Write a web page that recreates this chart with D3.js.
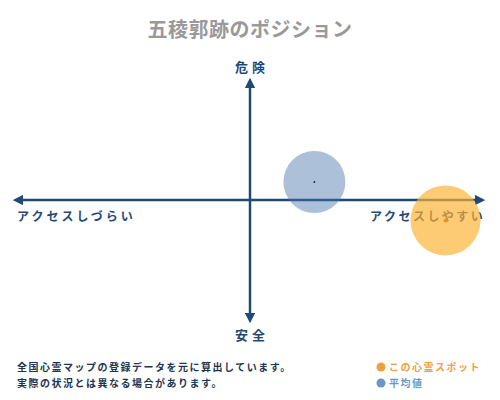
<!DOCTYPE html>
<html>
<head>
<meta charset="utf-8">
<script src="https://cdn.jsdelivr.net/npm/d3@7"></script>
<style>
  body { margin: 0; background: #fff; }
  text { font-family: "Noto Sans CJK JP", "Noto Sans", sans-serif; }
</style>
</head>
<body>
<div id="chart"></div>
<script>
const chartTitle = "五稜郭跡のポジション";
const axisLabels = ["危険", "安全", "アクセスしづらい", "アクセスしやすい"];
const noteLines = ["全国心霊マップの登録データを元に算出しています。", "実際の状況とは異なる場合があります。"];

// points: access (x), danger (y), bubble size
const pointNames = ["平均値", "この心霊スポット"];
const accessValues = [0.28, 0.85];
const dangerValues = [0.15, -0.17];
const sizeValues = [31, 35];
const legendNames = ["この心霊スポット", "平均値"];

const width = 500,
  height = 400;

const svg = d3.select("#chart").append("svg").attr("width", width).attr("height", height);

const x = d3.scaleLinear().domain([-1, 1]).range([20, 480]);
const y = d3.scaleLinear().domain([-1, 1]).range([320, 80]);

const axisColor = "#1f4a78";

// title
svg
  .append("text")
  .attr("x", 250)
  .attr("y", 37)
  .attr("text-anchor", "middle")
  .style("font-size", "20px")
  .style("font-weight", "bold")
  .style("letter-spacing", "0.5px")
  .style("fill", "#999")
  .text(chartTitle);

const defs = svg.append("defs");
defs
  .append("marker")
  .attr("id", "arrow")
  .attr("viewBox", "0 0 10 10")
  .attr("refX", 5)
  .attr("refY", 5)
  .attr("markerWidth", 4.2)
  .attr("markerHeight", 4.2)
  .attr("orient", "auto-start-reverse")
  .append("path")
  .attr("d", "M0,0 L10,5 L0,10 Z")
  .attr("fill", axisColor);

// axes
svg
  .append("line")
  .attr("x1", x(-1) - 2)
  .attr("x2", x(1))
  .attr("y1", y(0))
  .attr("y2", y(0))
  .attr("stroke", axisColor)
  .attr("stroke-width", 2.5)
  .attr("marker-start", "url(#arrow)")
  .attr("marker-end", "url(#arrow)");

svg
  .append("line")
  .attr("x1", x(0))
  .attr("x2", x(0))
  .attr("y1", y(1) + 3)
  .attr("y2", y(-1) - 2)
  .attr("stroke", axisColor)
  .attr("stroke-width", 2.5)
  .attr("marker-start", "url(#arrow)")
  .attr("marker-end", "url(#arrow)");

// axis labels
const labelStyle = (sel) =>
  sel.style("font-size", "13px").style("font-weight", "bold").style("fill", axisColor).style("letter-spacing", "4px");

svg.append("text").attr("x", x(0) + 2).attr("y", 72).attr("text-anchor", "middle").text(axisLabels[0]).call(labelStyle);
svg.append("text").attr("x", x(0) + 2).attr("y", 340).attr("text-anchor", "middle").text(axisLabels[1]).call(labelStyle);
svg
  .append("text")
  .attr("x", 17)
  .attr("y", 221)
  .text(axisLabels[2])
  .call(labelStyle)
  .style("font-size", "12px")
  .style("letter-spacing", "3px");
svg
  .append("text")
  .attr("x", 370)
  .attr("y", 221)
  .text(axisLabels[3])
  .call(labelStyle)
  .style("font-size", "12px")
  .style("letter-spacing", "2.5px");

// bubbles
const fills = ["rgba(70,115,170,0.45)", "rgba(252,178,50,0.68)"];
const dots = ["#1f3050", "#f09020"];
const points = pointNames.map((name, i) => ({
  name,
  x: accessValues[i],
  y: dangerValues[i],
  r: sizeValues[i],
  fill: fills[i],
  dot: dots[i],
}));

svg
  .selectAll(".bubble")
  .data(points)
  .join("circle")
  .attr("class", "bubble")
  .attr("cx", (d) => x(d.x))
  .attr("cy", (d) => y(d.y))
  .attr("r", (d) => d.r)
  .attr("fill", (d) => d.fill);

svg
  .selectAll(".center")
  .data(points)
  .join("circle")
  .attr("class", "center")
  .attr("cx", (d) => x(d.x))
  .attr("cy", (d) => y(d.y))
  .attr("r", (d, i) => (i === 0 ? 1 : 2))
  .attr("fill", (d) => d.dot);

// notes
svg
  .selectAll(".note")
  .data(noteLines)
  .join("text")
  .attr("class", "note")
  .attr("x", 17)
  .attr("y", (d, i) => 371 + i * 16)
  .style("font-size", "10px")
  .style("font-weight", "bold")
  .style("fill", "#1e3550")
  .style("letter-spacing", "1.5px")
  .text((d) => d);

// legend
const legendColors = ["#f0a040", "#6a98c4"];
const legendText = ["#f0a040", "#6a98c4"];
const legend = svg
  .selectAll(".legend")
  .data(legendNames)
  .join("g")
  .attr("class", "legend")
  .attr("transform", (d, i) => `translate(381, ${367 + i * 16})`);
legend.append("circle").attr("r", 4.5).attr("fill", (d, i) => legendColors[i]);
legend
  .append("text")
  .attr("x", 8)
  .attr("y", 4)
  .style("font-size", "10px")
  .style("font-weight", "bold")
  .style("letter-spacing", "1.5px")
  .style("fill", (d, i) => legendText[i])
  .text((d) => d);
</script>
</body>
</html>
